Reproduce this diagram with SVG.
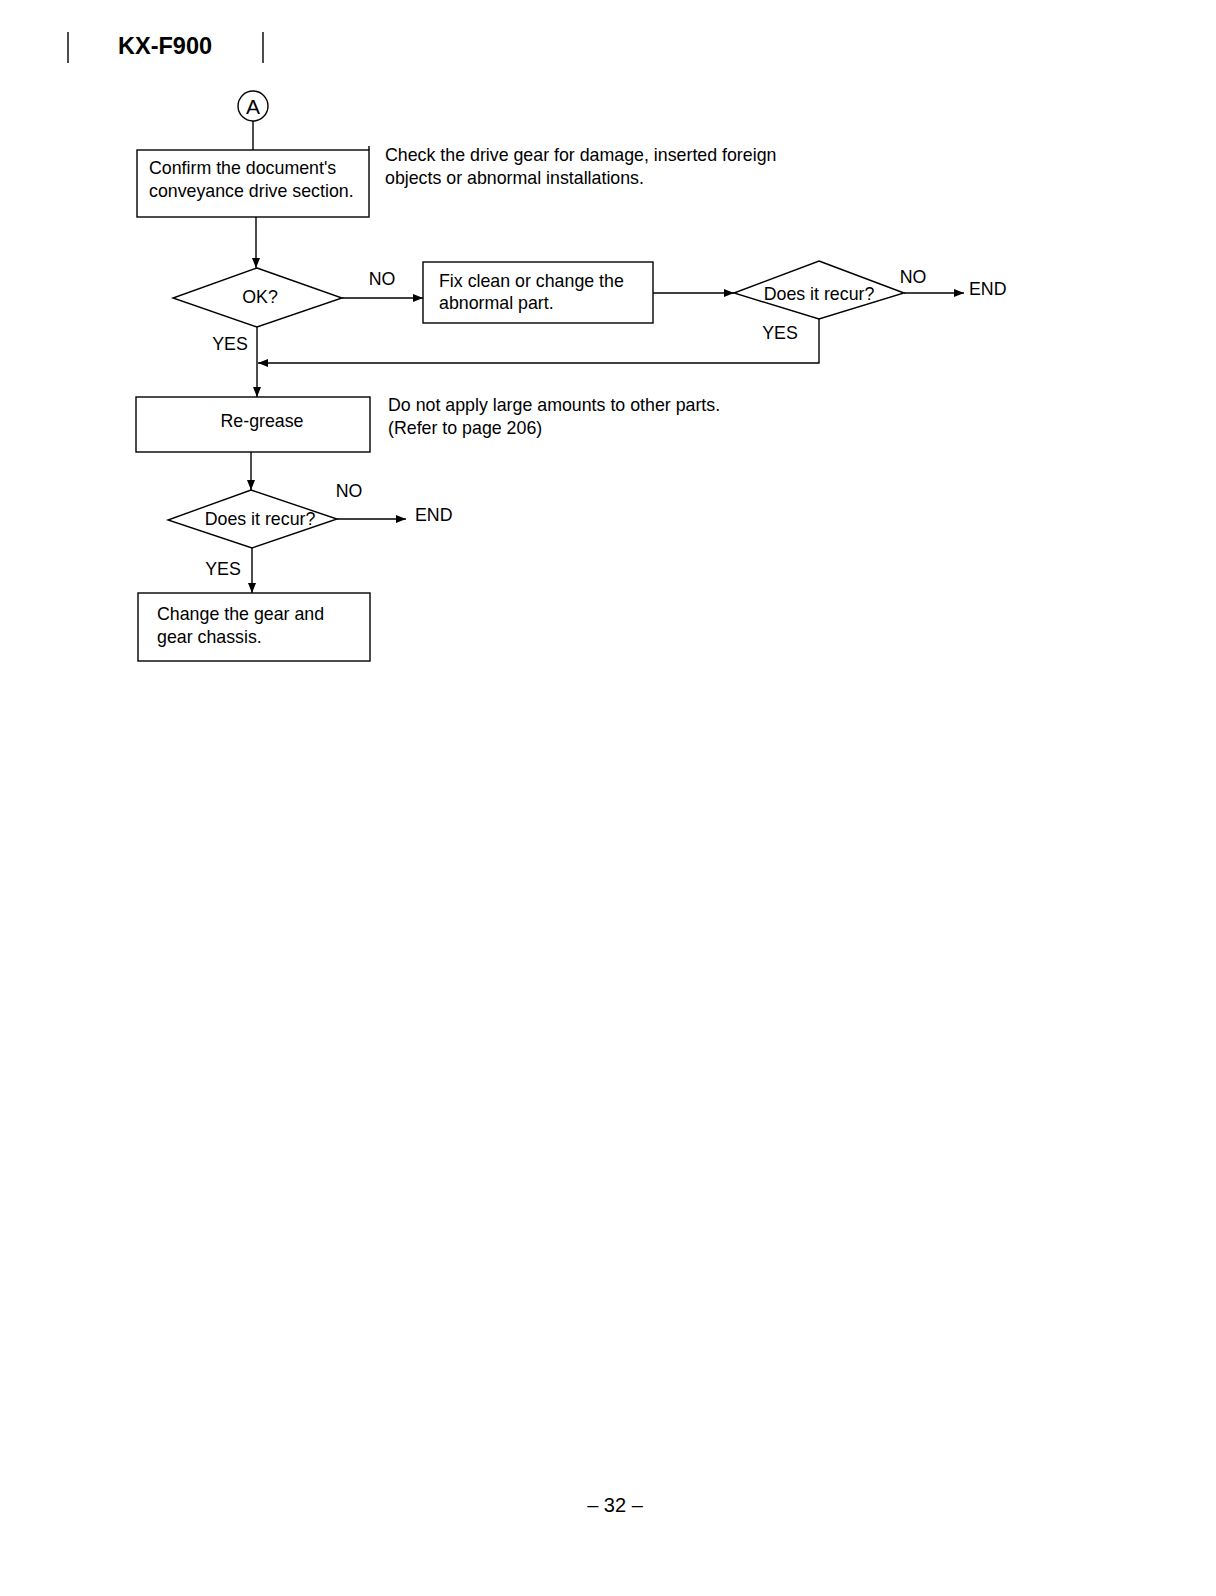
<svg xmlns="http://www.w3.org/2000/svg" width="1216" height="1596" viewBox="0 0 1216 1596">
<style>
text{font-family:"Liberation Sans",Arial,sans-serif;font-size:17.8px;fill:#000}
.t{font-size:23.5px;font-weight:bold}
.c{text-anchor:middle}
.s{fill:none;stroke:#000;stroke-width:1.4}
.b{fill:#fff;stroke:#000;stroke-width:1.4}
</style>
<defs>
<marker id="ar" viewBox="0 0 10 8" refX="10" refY="4" markerWidth="10" markerHeight="8" markerUnits="userSpaceOnUse" orient="auto">
<path d="M0,0 L10,4 L0,8 z" fill="#000"/>
</marker>
</defs>
<rect width="1216" height="1596" fill="#fff"/>
<g id="header">
<line x1="68" y1="32" x2="68" y2="63" class="s"/>
<text x="118" y="54" class="t">KX-F900</text>
<line x1="263" y1="32" x2="263" y2="63" class="s"/>
</g>
<g id="connectors">
<line x1="253" y1="120" x2="253" y2="150" class="s"/>
<line x1="256" y1="217" x2="256" y2="268" class="s" marker-end="url(#ar)"/>
<line x1="342" y1="298" x2="423" y2="298" class="s" marker-end="url(#ar)"/>
<line x1="653" y1="293" x2="734" y2="293" class="s" marker-end="url(#ar)"/>
<line x1="904" y1="293" x2="964" y2="293" class="s" marker-end="url(#ar)"/>
<polyline points="819,319 819,363 258,363" class="s" marker-end="url(#ar)"/>
<line x1="257" y1="327" x2="257" y2="397" class="s" marker-end="url(#ar)"/>
<line x1="251" y1="452" x2="251" y2="490" class="s" marker-end="url(#ar)"/>
<line x1="337" y1="519" x2="406" y2="519" class="s" marker-end="url(#ar)"/>
<line x1="252" y1="548" x2="252" y2="593" class="s" marker-end="url(#ar)"/>
</g>
<g id="start">
<circle cx="253" cy="106" r="15" class="b"/>
<text x="253" y="114" class="c" style="font-size:21px">A</text>
</g>
<g id="confirm">
<rect x="137" y="150" width="232" height="67" class="b"/>
<line x1="369" y1="146" x2="369" y2="150" class="s"/>
<text x="149" y="174">Confirm the document's</text>
<text x="149" y="197">conveyance drive section.</text>
</g>
<g id="note1">
<text x="385" y="161">Check the drive gear for damage, inserted foreign</text>
<text x="385" y="184">objects or abnormal installations.</text>
</g>
<g id="ok">
<polygon points="257,268 342,298 257,327 173,298" class="b"/>
<text x="260" y="303" class="c">OK?</text>
<text x="382" y="285" class="c">NO</text>
<text x="230" y="350" class="c">YES</text>
</g>
<g id="fix">
<rect x="423" y="262" width="230" height="61" class="b"/>
<text x="439" y="287">Fix clean or change the</text>
<text x="439" y="309">abnormal part.</text>
</g>
<g id="recur1">
<polygon points="819,261 904,293 819,319 734,293" class="b"/>
<text x="819" y="300" class="c">Does it recur?</text>
<text x="913" y="283" class="c">NO</text>
<text x="780" y="339" class="c">YES</text>
<text x="969" y="295">END</text>
</g>
<g id="regrease">
<rect x="136" y="397" width="234" height="55" class="b"/>
<text x="262" y="427" class="c">Re-grease</text>
</g>
<g id="note2">
<text x="388" y="411">Do not apply large amounts to other parts.</text>
<text x="388" y="434">(Refer to page 206)</text>
</g>
<g id="recur2">
<polygon points="251,490 337,519 252,548 168,520" class="b"/>
<text x="260" y="525" class="c">Does it recur?</text>
<text x="349" y="497" class="c">NO</text>
<text x="223" y="575" class="c">YES</text>
<text x="415" y="521">END</text>
</g>
<g id="change">
<rect x="138" y="593" width="232" height="68" class="b"/>
<text x="157" y="620">Change the gear and</text>
<text x="157" y="643">gear chassis.</text>
</g>
<g id="footer">
<text x="615" y="1512" class="c" style="font-size:20px">– 32 –</text>
</g>
</svg>
